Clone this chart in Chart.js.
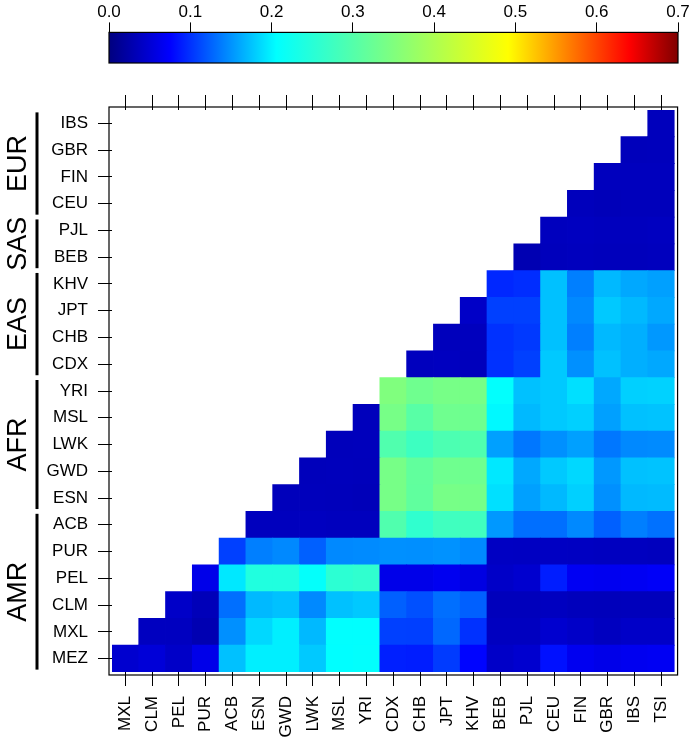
<!DOCTYPE html>
<html>
<head>
<meta charset="utf-8">
<script src="https://cdn.jsdelivr.net/npm/chart.js@4"></script>
<style>
  html, body { margin: 0; padding: 0; background: #fff; overflow: hidden; }
  #wrap { position: relative; width: 692px; height: 741px; }
  #heatBox { position: absolute; left: 0; top: 0; width: 692px; height: 741px; }
  #keyBox { position: absolute; left: 0; top: 0; width: 692px; height: 72px; }
</style>
</head>
<body>
<div id="wrap">
  <div id="heatBox"><canvas id="heat"></canvas></div>
  <div id="keyBox"><canvas id="key"></canvas></div>
</div>
<script>
/* LABELS */
const rowLabels = ["MEZ", "MXL", "CLM", "PEL", "PUR", "ACB", "ESN", "GWD", "LWK", "MSL", "YRI",
                   "CDX", "CHB", "JPT", "KHV", "BEB", "PJL", "CEU", "FIN", "GBR", "IBS"];
const colLabels = ["MXL", "CLM", "PEL", "PUR", "ACB", "ESN", "GWD", "LWK", "MSL", "YRI",
                   "CDX", "CHB", "JPT", "KHV", "BEB", "PJL", "CEU", "FIN", "GBR", "IBS", "TSI"];
const groupNames = ["AMR", "AFR", "EAS", "SAS", "EUR"];
const groupSizes = [6, 5, 4, 2, 4];
const keyTicks = [0, 0.1, 0.2, 0.3, 0.4, 0.5, 0.6, 0.7];

/* VALUES: each row starts at the column with the same index as the row */
const MEZ = [0.047, 0.052, 0.043, 0.062, 0.174, 0.198, 0.198, 0.178, 0.206, 0.208, 0.091, 0.090, 0.105, 0.077, 0.043, 0.047, 0.083, 0.066, 0.062, 0.066, 0.068];
const MXL = [0.038, 0.038, 0.030, 0.149, 0.186, 0.198, 0.170, 0.207, 0.207, 0.108, 0.107, 0.128, 0.100, 0.038, 0.038, 0.047, 0.043, 0.038, 0.043, 0.043];
const CLM = [0.043, 0.034, 0.132, 0.170, 0.174, 0.145, 0.174, 0.178, 0.124, 0.116, 0.132, 0.124, 0.036, 0.036, 0.038, 0.036, 0.035, 0.036, 0.036];
const PEL = [0.062, 0.194, 0.242, 0.242, 0.210, 0.255, 0.260, 0.062, 0.062, 0.066, 0.058, 0.043, 0.047, 0.090, 0.068, 0.066, 0.068, 0.071];
const PUR = [0.108, 0.140, 0.145, 0.124, 0.145, 0.146, 0.149, 0.148, 0.150, 0.145, 0.040, 0.039, 0.040, 0.039, 0.038, 0.038, 0.037];
const ACB = [0.037, 0.037, 0.038, 0.037, 0.037, 0.296, 0.260, 0.278, 0.278, 0.153, 0.132, 0.132, 0.145, 0.124, 0.140, 0.133];
const ESN = [0.035, 0.036, 0.035, 0.034, 0.340, 0.314, 0.340, 0.338, 0.190, 0.157, 0.170, 0.182, 0.149, 0.170, 0.171];
const GWD = [0.035, 0.036, 0.035, 0.340, 0.315, 0.331, 0.331, 0.194, 0.161, 0.178, 0.186, 0.153, 0.174, 0.175];
const LWK = [0.035, 0.036, 0.296, 0.275, 0.292, 0.296, 0.157, 0.136, 0.149, 0.157, 0.136, 0.145, 0.146];
const MSL = [0.036, 0.340, 0.305, 0.331, 0.330, 0.203, 0.170, 0.178, 0.182, 0.157, 0.174, 0.175];
const YRI = [0.350, 0.331, 0.340, 0.340, 0.208, 0.174, 0.178, 0.190, 0.161, 0.182, 0.183];
const CDX = [0.037, 0.038, 0.036, 0.100, 0.108, 0.178, 0.149, 0.174, 0.165, 0.161];
const CHB = [0.036, 0.037, 0.100, 0.104, 0.174, 0.140, 0.170, 0.165, 0.153];
const JPT = [0.042, 0.108, 0.108, 0.174, 0.145, 0.178, 0.170, 0.161];
const KHV = [0.095, 0.098, 0.174, 0.140, 0.170, 0.161, 0.157];
const BEB = [0.030, 0.036, 0.037, 0.036, 0.036, 0.037];
const PJL = [0.037, 0.038, 0.037, 0.037, 0.038];
const CEU = [0.036, 0.034, 0.035, 0.035];
const FIN = [0.037, 0.037, 0.037];
const GBR = [0.035, 0.036];
const IBS = [0.036];
const rows = [MEZ, MXL, CLM, PEL, PUR, ACB, ESN, GWD, LWK, MSL, YRI, CDX, CHB, JPT, KHV, BEB, PJL, CEU, FIN, GBR, IBS];

/* PALETTE */
const paletteStops = [0, 0.075, 0.14, 0.206, 0.349, 0.491, 0.565, 0.64, 0.7];
const paletteColors = ["#00007F", "#0000FF", "#007FFF", "#00FFFF", "#7FFF7F", "#FFFF00", "#FF7F00", "#FF0000", "#7F0000"];

const FONT = "'Liberation Sans', Arial, Helvetica, sans-serif";

function hexRgb(h) {
  return [parseInt(h.slice(1, 3), 16), parseInt(h.slice(3, 5), 16), parseInt(h.slice(5, 7), 16)];
}

function colorFor(v) {
  let i = 0;
  while (i < paletteStops.length - 2 && v > paletteStops[i + 1]) i++;
  let t = (v - paletteStops[i]) / (paletteStops[i + 1] - paletteStops[i]);
  t = Math.max(0, Math.min(1, t));
  let a = hexRgb(paletteColors[i]), b = hexRgb(paletteColors[i + 1]);
  let c = a.map((x, k) => Math.round(x + (b[k] - x) * t));
  return "rgb(" + c.join(",") + ")";
}

/* HEATMAP */
const datasets = rows.map((vals, r) => ({
  data: colLabels.map((_, c) => c >= r ? [r - 0.5, r + 0.5] : null),
  backgroundColor: colLabels.map((_, c) => c >= r ? colorFor(vals[c - r]) : "rgba(0,0,0,0)"),
  grouped: false,
  barPercentage: 1,
  categoryPercentage: 1,
  borderWidth: 0,
  inflateAmount: 0.4
}));

const frame = {
  id: "frame",
  afterDraw(chart) {
    const { ctx, chartArea: a } = chart;
    const y = chart.scales.y;
    ctx.save();
    ctx.strokeStyle = "#000";
    ctx.lineWidth = 1.2;
    ctx.strokeRect(a.left - 3, a.top - 3, a.right - a.left + 6, a.bottom - a.top + 6);

    // population groups on the left
    ctx.fillStyle = "#000";
    ctx.font = "27px " + FONT;
    ctx.textAlign = "center";
    ctx.textBaseline = "middle";
    let start = 0;
    groupNames.forEach((g, i) => {
      let end = start + groupSizes[i] - 1;
      let yBot = y.getPixelForValue(start) + 11;
      let yTop = y.getPixelForValue(end) - 11;
      ctx.lineWidth = 3;
      ctx.beginPath();
      ctx.moveTo(37, yTop);
      ctx.lineTo(37, yBot);
      ctx.stroke();
      ctx.save();
      ctx.translate(18, (yTop + yBot) / 2);
      ctx.rotate(-Math.PI / 2);
      ctx.fillText(g, 0, 1);
      ctx.restore();
      start = end + 1;
    });
    ctx.restore();
  }
};

new Chart(document.getElementById("heat"), {
  type: "bar",
  data: { labels: colLabels, datasets },
  options: {
    responsive: true,
    maintainAspectRatio: false,
    animation: false,
    events: [],
    layout: { padding: { left: 0, right: 17, top: 95, bottom: 0 } },
    plugins: { legend: { display: false }, tooltip: { enabled: false } },
    scales: {
      x: {
        type: "category",
        position: "bottom",
        grid: { offset: false, drawOnChartArea: false, tickLength: 14, color: "#000", lineWidth: 1 },
        border: { display: false },
        ticks: { minRotation: 90, maxRotation: 90, autoSkip: false, padding: 10, color: "#000",
                 font: { family: FONT, size: 17 } },
        afterFit: s => { s.height = 69; }
      },
      xTop: {
        type: "category",
        labels: colLabels,
        position: "top",
        offset: true,
        grid: { offset: false, drawOnChartArea: false, tickLength: 15, color: "#000", lineWidth: 1 },
        border: { display: false },
        ticks: { display: false },
        afterFit: s => { s.height = 15; }
      },
      y: {
        type: "linear",
        min: -0.5,
        max: 20.5,
        afterBuildTicks: s => { s.ticks = rowLabels.map((_, i) => ({ value: i })); },
        grid: { drawOnChartArea: false, tickLength: 14, color: "#000", lineWidth: 1 },
        border: { display: false },
        ticks: { callback: v => rowLabels[v], autoSkip: false, padding: 10, color: "#000",
                 font: { family: FONT, size: 17 } },
        afterFit: s => { s.width = 112; }
      }
    }
  },
  plugins: [frame]
});

/* COLOUR KEY */
const gradientFill = {
  id: "gradientFill",
  beforeDatasetsDraw(chart) {
    const { ctx, chartArea: a } = chart;
    const x = chart.scales.x;
    let x0 = x.getPixelForValue(0), x1 = x.getPixelForValue(0.7);
    let g = ctx.createLinearGradient(x0, 0, x1, 0);
    paletteStops.forEach((s, i) => g.addColorStop(s / 0.7, paletteColors[i]));
    ctx.save();
    ctx.fillStyle = g;
    ctx.fillRect(a.left, a.top, a.right - a.left, a.bottom - a.top);
    ctx.strokeStyle = "#000";
    ctx.lineWidth = 1.2;
    ctx.strokeRect(a.left, a.top, a.right - a.left, a.bottom - a.top);
    ctx.restore();
  }
};

new Chart(document.getElementById("key"), {
  type: "scatter",
  data: { datasets: [] },
  options: {
    responsive: true,
    maintainAspectRatio: false,
    animation: false,
    events: [],
    layout: { padding: { left: 109, right: 14, top: 2, bottom: 9 } },
    plugins: { legend: { display: false }, tooltip: { enabled: false } },
    scales: {
      x: {
        type: "linear",
        position: "top",
        min: 0,
        max: 0.7,
        afterBuildTicks: s => { s.ticks = keyTicks.map(v => ({ value: v })); },
        grid: { drawOnChartArea: false, tickLength: 10, color: "#000", lineWidth: 1 },
        border: { display: false },
        ticks: { callback: v => v.toFixed(1), maxRotation: 0, padding: 0, color: "#000",
                 font: { family: FONT, size: 17 } }
      },
      y: { display: false, min: 0, max: 1 }
    }
  },
  plugins: [gradientFill]
});
</script>
</body>
</html>
